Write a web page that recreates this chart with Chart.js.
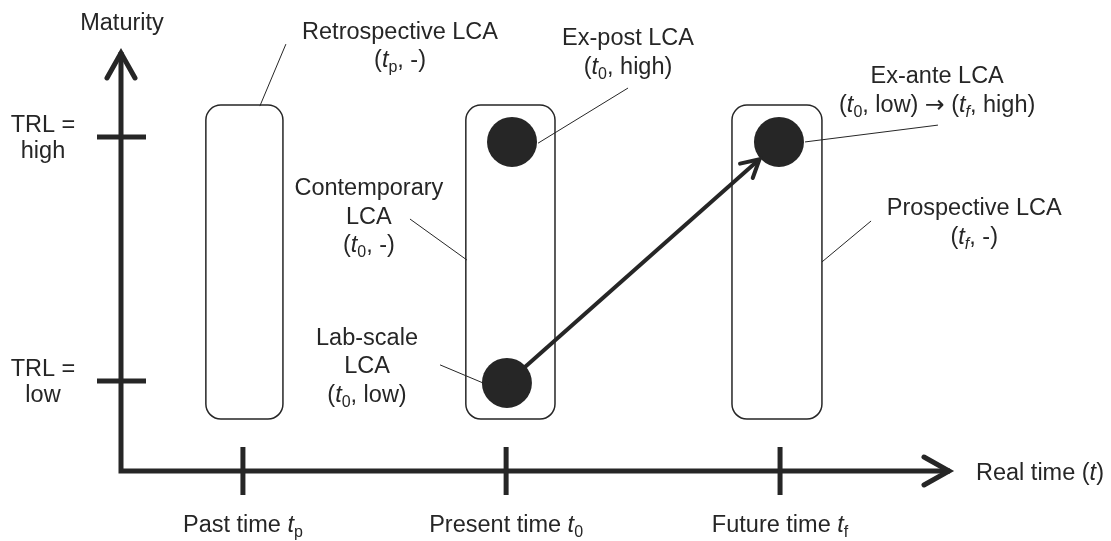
<!DOCTYPE html>
<html>
<head>
<meta charset="utf-8">
<script src="https://cdn.jsdelivr.net/npm/chart.js@4.4.0/dist/chart.umd.min.js"></script>
<style>
  html, body { margin: 0; padding: 0; background: #fff; }
  #wrap { width: 1111px; height: 541px; }
</style>
</head>
<body>
<div id="wrap"><canvas id="lcaChart" width="1111" height="541"></canvas></div>
<script>
// x = real time, y = maturity (TRL level)
const timeLabels = ['Past time *t*~p~', 'Present time *t*~0~', 'Future time *t*~f~'];
const timeValues = [1, 1.98, 3];
const trlLabels = [['TRL =', 'low'], ['TRL =', 'high']];
const trlValues = [1, 2];

// LCA points (black dots)
const pointNames = ['Lab-scale', 'Ex-post', 'Ex-ante'];
const pointTime = [1.983, 2.002, 2.996];
const pointTrl = [0.992, 1.98, 1.98];

// rounded boxes: time span and maturity span
const boxStart = [0.862, 1.83, 2.821];
const boxEnd = [1.149, 2.162, 3.156];
const boxLow = [0.844, 0.844, 0.844];
const boxHigh = [2.131, 2.131, 2.131];

// axis ranges (origin .. arrow tip)
const xRange = [0.546, 3.644];
const yRange = [0.631, 2.361];

// callout texts with leader lines (data units)
const callouts = [
    { lines: ['Retrospective LCA', '(*t*~p~, -)'], at: [1.585, 2.402], from: [1.160, 2.381], to: [1.063, 2.127] },
    { lines: ['Ex-post LCA', '(*t*~0~, high)'], at: [2.434, 2.377], from: [2.434, 2.201], to: [2.099, 1.975] },
    { lines: ['Ex-ante LCA', '(*t*~0~, low) {\u2192} (*t*^f^, high)'], at: [3.585, 2.221], from: [3.588, 2.049], to: [3.093, 1.980] },
    { lines: ['Prospective LCA', '(*t*^f^, -)'], at: [3.723, 1.680], from: [3.339, 1.656], to: [3.156, 1.488] },
    { lines: ['Contemporary', 'LCA', '(*t*~0~, -)'], at: [1.469, 1.762], from: [1.622, 1.664], to: [1.834, 1.496] },
    { lines: ['Lab-scale', 'LCA', '(*t*~0~, low)'], at: [1.462, 1.148], from: [1.734, 1.066], to: [1.894, 0.992] }
];

const INK = '#262626';
const FONT = '"Liberation Sans", Arial, Helvetica, sans-serif';
const SYM_FONT = '"DejaVu Sans", sans-serif';
const FS = 23.5, SUB = 16, LINE_H = 28.5;

// tiny markup: *italic*, ~subscript~, ^italic subscript^, {symbol}
function parseRuns(str) {
    const runs = [];
    const re = /\*([^*]+)\*|~([^~]+)~|\^([^^]+)\^|\{([^}]+)\}|([^*~^{]+)/g;
    let m;
    while ((m = re.exec(str))) {
        if (m[1]) runs.push({ t: m[1], it: true });
        else if (m[2]) runs.push({ t: m[2], sub: true });
        else if (m[3]) runs.push({ t: m[3], it: true, sub: true });
        else if (m[4]) runs.push({ t: m[4], sym: true });
        else runs.push({ t: m[5] });
    }
    return runs;
}

function setFont(ctx, r) {
    ctx.font = (r.it ? 'italic ' : '') + (r.sub ? SUB : FS) + 'px ' + (r.sym ? SYM_FONT : FONT);
}

function drawRich(ctx, str, x, y, align) {
    const runs = parseRuns(str);
    let w = 0;
    runs.forEach(r => { setFont(ctx, r); r.w = ctx.measureText(r.t).width; w += r.w; });
    let cx = align === 'left' ? x : x - w / 2;
    ctx.textAlign = 'left';
    ctx.textBaseline = 'alphabetic';
    ctx.fillStyle = INK;
    runs.forEach(r => {
        setFont(ctx, r);
        ctx.fillText(r.t, cx, y + (r.sub ? 5 : 0));
        cx += r.w;
    });
}

function line(ctx, x1, y1, x2, y2) {
    ctx.beginPath();
    ctx.moveTo(x1, y1);
    ctx.lineTo(x2, y2);
    ctx.stroke();
}

const diagramPlugin = {
    id: 'lcaDiagram',
    beforeDatasetsDraw(chart) {
        const { ctx, chartArea: a } = chart;
        const xs = chart.scales.x, ys = chart.scales.y;
        ctx.save();
        ctx.strokeStyle = INK;

        // boxes
        ctx.lineWidth = 1.5;
        boxStart.forEach((s, i) => {
            const x0 = xs.getPixelForValue(s), x1 = xs.getPixelForValue(boxEnd[i]);
            const y0 = ys.getPixelForValue(boxHigh[i]), y1 = ys.getPixelForValue(boxLow[i]);
            ctx.beginPath();
            ctx.roundRect(x0, y0, x1 - x0, y1 - y0, 15);
            ctx.stroke();
        });

        // axes
        ctx.lineWidth = 5;
        ctx.lineJoin = 'miter';
        ctx.lineCap = 'butt';
        ctx.beginPath();
        ctx.moveTo(a.left, a.top + 3);
        ctx.lineTo(a.left, a.bottom);
        ctx.lineTo(a.right - 3, a.bottom);
        ctx.stroke();
        ctx.lineCap = 'round';
        ctx.beginPath();
        ctx.moveTo(a.left - 14, a.top + 29);
        ctx.lineTo(a.left, a.top + 4);
        ctx.lineTo(a.left + 14, a.top + 29);
        ctx.stroke();
        ctx.beginPath();
        ctx.moveTo(a.right - 29, a.bottom - 14);
        ctx.lineTo(a.right - 4, a.bottom);
        ctx.lineTo(a.right - 29, a.bottom + 14);
        ctx.stroke();

        // ticks
        ctx.lineCap = 'butt';
        trlValues.forEach(v => {
            const y = ys.getPixelForValue(v);
            line(ctx, a.left - 24, y, a.left + 25, y);
        });
        timeValues.forEach(v => {
            const x = xs.getPixelForValue(v);
            line(ctx, x, a.bottom - 24, x, a.bottom + 24);
        });
        ctx.restore();
    },
    afterDatasetsDraw(chart) {
        const { ctx, chartArea: a } = chart;
        const xs = chart.scales.x, ys = chart.scales.y;
        ctx.save();
        ctx.strokeStyle = INK;

        // arrow lab-scale -> ex-ante
        const sx = xs.getPixelForValue(pointTime[0]), sy = ys.getPixelForValue(pointTrl[0]);
        const ex = xs.getPixelForValue(pointTime[2]), ey = ys.getPixelForValue(pointTrl[2]);
        const ang = Math.atan2(ey - sy, ex - sx);
        const tx = ex - Math.cos(ang) * 26, ty = ey - Math.sin(ang) * 26;
        ctx.lineWidth = 4;
        ctx.lineCap = 'butt';
        line(ctx, sx, sy, tx - Math.cos(ang) * 2, ty - Math.sin(ang) * 2);
        ctx.lineCap = 'round';
        ctx.lineJoin = 'miter';
        ctx.beginPath();
        ctx.moveTo(tx - 20 * Math.cos(ang - 0.5), ty - 20 * Math.sin(ang - 0.5));
        ctx.lineTo(tx, ty);
        ctx.lineTo(tx - 20 * Math.cos(ang + 0.5), ty - 20 * Math.sin(ang + 0.5));
        ctx.stroke();

        // callouts
        ctx.lineWidth = 1;
        ctx.lineCap = 'butt';
        callouts.forEach(c => {
            line(ctx, xs.getPixelForValue(c.from[0]), ys.getPixelForValue(c.from[1]),
                      xs.getPixelForValue(c.to[0]), ys.getPixelForValue(c.to[1]));
            const cx = xs.getPixelForValue(c.at[0]), cy = ys.getPixelForValue(c.at[1]);
            c.lines.forEach((t, i) => drawRich(ctx, t, cx, cy + i * LINE_H));
        });

        // axis labels
        drawRich(ctx, 'Maturity', a.left + 1, a.top - 19);
        drawRich(ctx, 'Real time (*t*)', a.right + 23, a.bottom + 9, 'left');
        trlValues.forEach((v, i) => {
            const y = ys.getPixelForValue(v);
            drawRich(ctx, trlLabels[i][0], a.left - 78, y - 5);
            drawRich(ctx, trlLabels[i][1], a.left - 78, y + 21);
        });
        timeValues.forEach((v, i) => {
            drawRich(ctx, timeLabels[i], xs.getPixelForValue(v), a.bottom + 61);
        });
        ctx.restore();
    }
};

new Chart(document.getElementById('lcaChart'), {
    type: 'scatter',
    data: {
        labels: pointNames,
        datasets: [{
            label: 'LCA',
            data: pointTime.map((x, i) => ({ x: x, y: pointTrl[i] })),
            pointRadius: 25,
            pointHoverRadius: 25,
            backgroundColor: INK,
            borderWidth: 0,
            clip: false
        }]
    },
    options: {
        responsive: false,
        animation: false,
        events: [],
        layout: { padding: { left: 121, right: 158, top: 49, bottom: 70 } },
        scales: {
            x: { type: 'linear', min: xRange[0], max: xRange[1], display: false },
            y: { type: 'linear', min: yRange[0], max: yRange[1], display: false }
        },
        plugins: {
            legend: { display: false },
            tooltip: { enabled: false }
        }
    },
    plugins: [diagramPlugin]
});
</script>
</body>
</html>
